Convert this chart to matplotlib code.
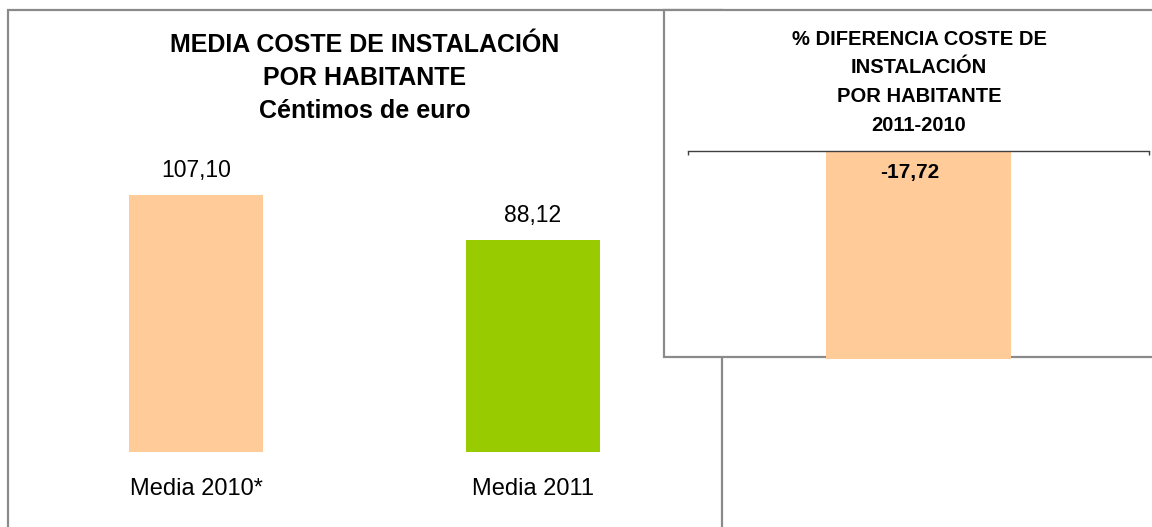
import matplotlib
matplotlib.use("Agg")
import matplotlib.pyplot as plt
from matplotlib.patches import Rectangle

# ---- data ----
categories = ["Media 2010*", "Media 2011"]
values = [107.10, 88.12]
value_labels = ["107,10", "88,12"]
bar_colors = ["#FFCC99", "#99CC00"]

diff_values = [-17.72]
diff_labels = ["-17,72"]

left_title = ["MEDIA COSTE DE INSTALACIÓN", "POR HABITANTE", "Céntimos de euro"]
right_title = ["% DIFERENCIA COSTE DE", "INSTALACIÓN", "POR HABITANTE", "2011-2010"]

FONT = ["Liberation Sans", "DejaVu Sans"]
W, H = 1152, 527
fig = plt.figure(figsize=(W / 100, H / 100), dpi=100)
fig.patch.set_facecolor("white")


def fx(px):
    return px / W


def fy(py):
    return 1 - py / H


def pts(px):
    return px * 0.72


border = "#8A8A8A"

# left panel frame
fig.add_artist(Rectangle((fx(8), fy(540)), fx(722) - fx(8), fy(10) - fy(540),
                         transform=fig.transFigure, facecolor="white",
                         edgecolor=border, linewidth=1.6, zorder=0.5))

# left axes
axL = fig.add_axes([fx(8), fy(452), fx(722) - fx(8), fy(150) - fy(452)], zorder=1)
axL.patch.set_alpha(0)
x = list(range(len(categories)))
axL.bar(x, values, width=0.398, color=bar_colors)
axL.set_xlim(-0.558, 1.561)
axL.set_ylim(0, 125.8)
for s in axL.spines.values():
    s.set_visible(False)
axL.set_yticks([])
axL.set_xticks(x)
axL.set_xticklabels(categories, fontsize=17, family=FONT, va="baseline")
axL.tick_params(axis="x", length=0, pad=pts(43))
for xi, v, lab in zip(x, values, value_labels):
    axL.annotate(lab, (xi, v), xytext=(0, pts(18.3)), textcoords="offset points",
                 ha="center", va="baseline", fontsize=16.5, family=FONT)

# left titles
for yb, t in zip([51.7, 85, 118], left_title):
    fig.text(fx(365), fy(yb), t, ha="center", va="baseline", fontsize=18,
             fontweight="bold", family=FONT, zorder=1.5)

# right panel frame
fig.add_artist(Rectangle((fx(664), fy(357)), fx(1170) - fx(664), fy(10) - fy(357),
                         transform=fig.transFigure, facecolor="white",
                         edgecolor=border, linewidth=1.6, zorder=2))

# right axes
axR = fig.add_axes([fx(688), fy(385.8), fx(1149) - fx(688), fy(151) - fy(385.8)], zorder=3)
axR.patch.set_alpha(0)
axR.bar([0], diff_values, width=0.403, color="#FFCC99", clip_on=False)
axR.set_xlim(-0.5, 0.5)
axR.set_ylim(-20, 0)
for k in ["left", "right", "bottom"]:
    axR.spines[k].set_visible(False)
axR.spines["top"].set_color("#404040")
axR.spines["top"].set_linewidth(1.0)
axR.set_yticks([])
axR.xaxis.tick_top()
axR.set_xticks([-0.5, 0.5])
axR.set_xticklabels(["", ""])
axR.tick_params(axis="x", direction="in", length=pts(4), width=1.0, color="#404040")
for v, lab in zip(diff_values, diff_labels):
    axR.annotate(lab, (0, 0), xytext=(-pts(9), -pts(27.3)), textcoords="offset points",
                 ha="center", va="baseline", fontsize=15, fontweight="bold", family=FONT)

for yb, t in zip([45, 73.3, 101.7, 131], right_title):
    fig.text(fx(919), fy(yb), t, ha="center", va="baseline", fontsize=14.5,
             fontweight="bold", family=FONT, zorder=4)

fig.savefig("out.png", dpi=100, facecolor="white")
